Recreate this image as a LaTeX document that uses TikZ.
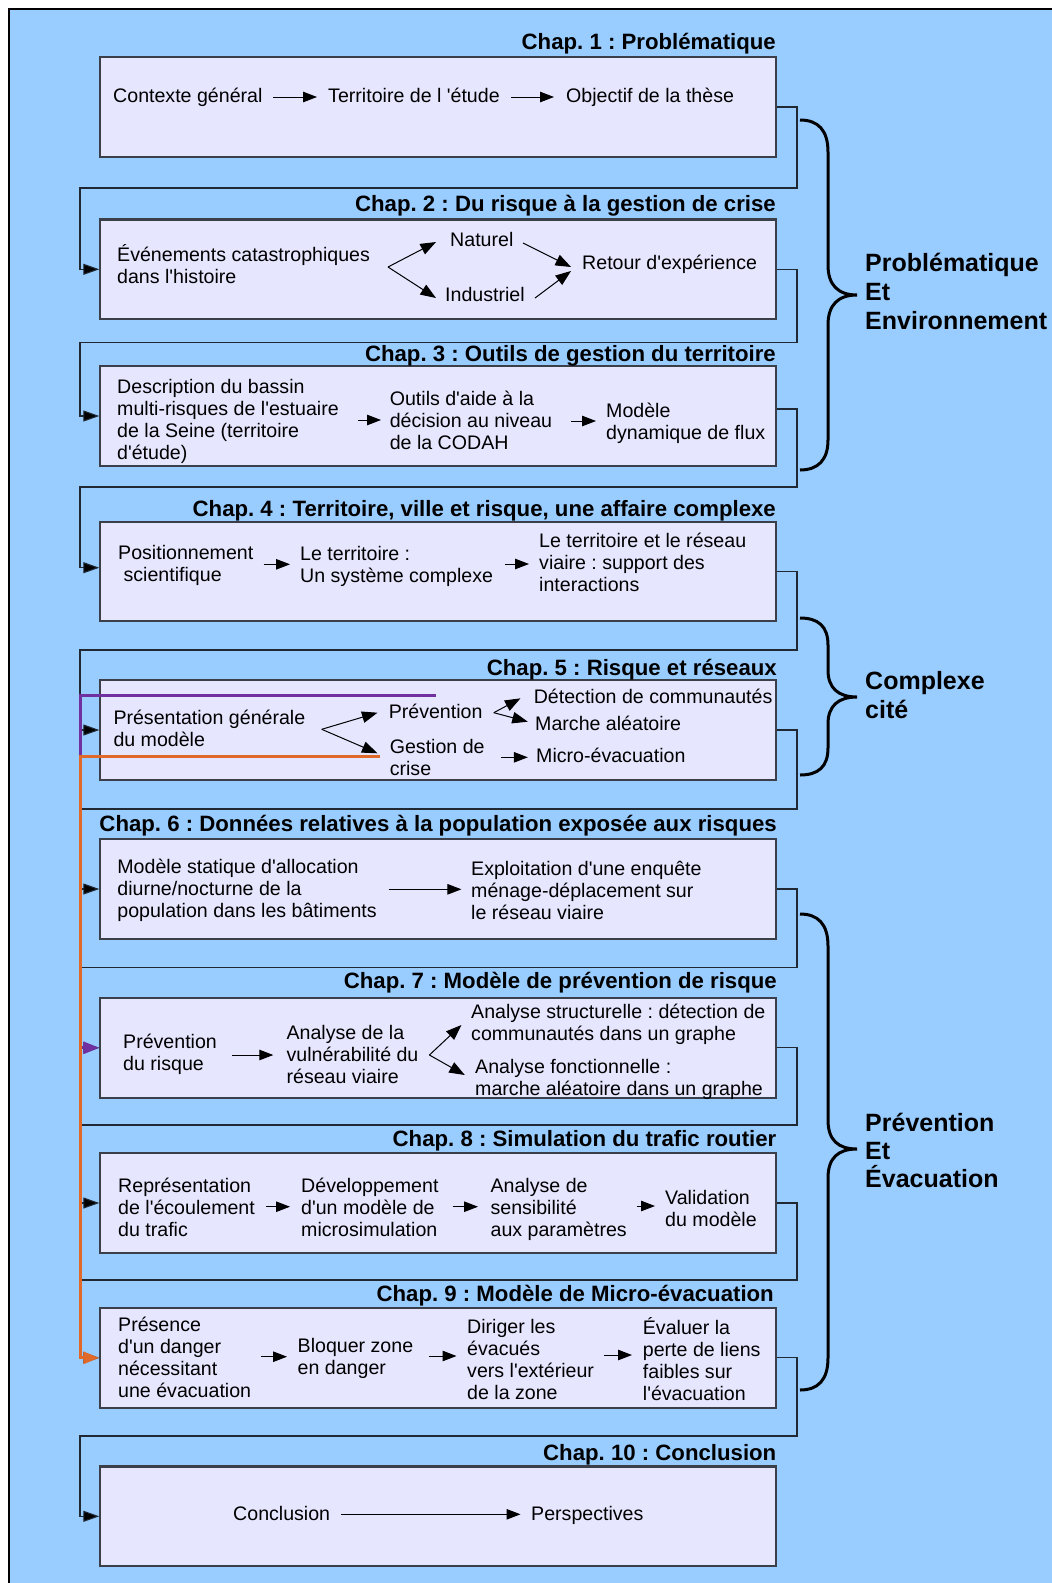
\documentclass[tikz,border=0pt]{standalone}
\usepackage{fontspec}
\setmainfont{Liberation Sans}[Ligatures=TeXOff]
\usetikzlibrary{arrows.meta}
\definecolor{bgblue}{HTML}{99CCFF}
\definecolor{boxfill}{HTML}{E6E6FF}
\definecolor{boxline}{HTML}{3A3F4A}
\definecolor{connline}{HTML}{1F2833}
\definecolor{purp}{HTML}{7030A0}
\definecolor{orng}{HTML}{E0692A}
\newcommand\ml[2][22pt]{\vtop{\baselineskip=#1\lineskiplimit=-100pt\lineskip=0pt\halign{##\hfil\cr#2\crcr}}}
\frenchspacing
\begin{document}
\begin{tikzpicture}[x=1pt,y=-1pt,
 box/.style={draw=boxline,fill=boxfill,line width=1.4pt,minimum width=676pt,minimum height=99pt,inner sep=0pt},
 txt/.style={font=\frenchspacing\fontsize{19.6}{22}\selectfont,inner sep=0pt,anchor=base west},
 ttl/.style={font=\frenchspacing\bfseries\fontsize{22.2}{26}\selectfont,inner sep=0pt,anchor=base east},
 grp/.style={font=\bfseries\fontsize{25}{29}\selectfont,inner sep=0pt,anchor=base west},
 conn/.style={draw=connline,line width=1.1pt,-{Triangle[length=16pt,width=11pt,fill=black]}},
 arr/.style={draw=black,line width=1pt,-{Triangle[length=14pt,width=10.5pt]}},
 darr/.style={draw=black,line width=1pt,-{Triangle[length=15.5pt,width=11.5pt]}},
 brc/.style={draw=black,line width=3pt},
 purpline/.style={draw=purp,line width=3pt,-{Triangle[length=16pt,width=12pt]}},
 orngline/.style={draw=orng,line width=3pt,-{Triangle[length=16pt,width=12pt]}}]
\useasboundingbox (0,0) rectangle (1052,1583);
\fill[white] (0,0) rectangle (1052,1583);
\fill[bgblue] (9,9) rectangle (1052,1583);
\draw[black,line width=1.2pt] (9,1583) -- (9,9) -- (1052,9);

% boxes
\node[box] (b1) at (438,107) {};
\node[box] (b2) at (438,269.3) {};
\node[box] (b3) at (438,416) {};
\node[box] (b4) at (438,571.4) {};
\node[box] (b5) at (438,730) {};
\node[box] (b6) at (438,889) {};
\node[box] (b7) at (438,1047.8) {};
\node[box] (b8) at (438,1203) {};
\node[box] (b9) at (438,1357.8) {};
\node[box] (b10) at (438,1516.3) {};

% connector corners
\coordinate (k1a) at (797,188);    \coordinate (k1b) at (80,188);
\coordinate (k2a) at (797,342.7);  \coordinate (k2b) at (80,342.7);
\coordinate (k3a) at (797,487);    \coordinate (k3b) at (80,487);
\coordinate (k4a) at (797,650);    \coordinate (k4b) at (80,650);
\coordinate (k5a) at (797,809);    \coordinate (k5b) at (80,809);
\coordinate (k6a) at (797,967.3);  \coordinate (k6b) at (80,967.3);
\coordinate (k7a) at (797,1125);   \coordinate (k7b) at (80,1125);
\coordinate (k8a) at (797,1280);   \coordinate (k8b) at (80,1280);
\coordinate (k9a) at (797,1436);   \coordinate (k9b) at (80,1436);

\draw[conn] (b1.east) -| (k1a) -- (k1b) |- (b2.west);
\draw[conn] (b2.east) -| (k2a) -- (k2b) |- (b3.west);
\draw[conn] ([shift={(0,-7)}]b3.east) -| (k3a) -- (k3b) |- ([shift={(0,-3.7)}]b4.west);
\draw[conn] (b4.east) -| (k4a) -- (k4b) |- (b5.west);
\draw[conn] (b5.east) -| (k5a) -- (k5b) |- (b6.west);
\draw[conn] (b6.east) -| (k6a) -- (k6b) |- (b7.west);
\draw[conn] (b7.east) -| (k7a) -- (k7b) |- (b8.west);
\draw[conn] (b8.east) -| (k8a) -- (k8b) |- (b9.west);
\draw[conn] (b9.east) -| (k9a) -- (k9b) |- (b10.west);

% redraw box outlines above the connector ends
\foreach \b in {b1,b2,b3,b4,b5,b6,b7,b8,b9,b10}{
  \draw[draw=boxline,line width=1.4pt] (\b.north west) rectangle (\b.south east);
}

% titles
\node[ttl] (t1) at (776,49) {Chap. 1 : Problématique};
\node[ttl] (t2) at (776,211.7) {Chap. 2 : Du risque à la gestion de crise};
\node[ttl] (t3) at (776,361.7) {Chap. 3 : Outils de gestion du territoire};
\node[ttl] (t4) at (776,516) {Chap. 4 : Territoire, ville et risque, une affaire complexe};
\node[ttl] (t5) at (777,675) {Chap. 5 : Risque et réseaux};
\node[ttl] (t6) at (777,831.7) {Chap. 6 : Données relatives à la population exposée aux risques};
\node[ttl] (t7) at (777,988.3) {Chap. 7 : Modèle de prévention de risque};
\node[ttl] (t8) at (776.5,1146) {Chap. 8 : Simulation du trafic routier};
\node[ttl] (t9) at (774,1301.7) {Chap. 9 : Modèle de Micro-évacuation};
\node[ttl] (t10) at (776.5,1460) {Chap. 10 : Conclusion};

% chapter 1
\node[txt] (c1a) at (113,102) {Contexte général};
\node[txt] (c1b) at (328,102) {Territoire de l 'étude};
\node[txt] (c1c) at (566,102) {Objectif de la thèse};
\draw[arr] ([shift={(160,-5)}]c1a.base west) -- ([shift={(-11,-5)}]c1b.base west);
\draw[arr] ([shift={(183,-5)}]c1b.base west) -- ([shift={(-12,-5)}]c1c.base west);

% chapter 2
\node[txt] (c2a) at (117,261.5) {\ml{Événements catastrophiques\cr dans l'histoire}};
\node[txt] (c2b) at (450,246) {Naturel};
\node[txt] (c2c) at (445,301) {Industriel};
\node[txt] (c2d) at (582,269.5) {Retour d'expérience};
\draw[darr] ([shift={(271,5.5)}]c2a.base west) -- ([shift={(-14,-4)}]c2b.base west);
\draw[darr] ([shift={(271,5.5)}]c2a.base west) -- ([shift={(-9,-3)}]c2c.base west);
\draw[darr] ([shift={(73,-3)}]c2b.base west) -- ([shift={(-11,-2.5)}]c2d.base west);
\draw[darr] ([shift={(90,-3)}]c2c.base west) -- ([shift={(-11,1.5)}]c2d.base west);

% chapter 3
\node[txt] (c3a) at (117,393.7) {\ml{Description du bassin\cr multi-risques de l'estuaire\cr de la Seine (territoire\cr d'étude)}};
\node[txt] (c3b) at (389.6,405.3) {\ml{Outils d'aide à la\cr décision au niveau\cr de la CODAH}};
\node[txt] (c3c) at (606,417) {\ml{Modèle\cr dynamique de flux}};
\draw[arr] ([shift={(241,26.3)}]c3a.base west) -- ([shift={(-8.6,14.7)}]c3b.base west);
\draw[arr] ([shift={(181.8,15.7)}]c3b.base west) -- ([shift={(-10,4)}]c3c.base west);

% chapter 4
\node[txt] (c4a) at (118,559.7) {\ml{Positionnement\cr \ scientifique}};
\node[txt] (c4b) at (300,560.3) {\ml{Le territoire :\cr Un système complexe}};
\node[txt] (c4c) at (539,547) {\ml{Le territoire et le réseau\cr viaire : support des\cr interactions}};
\draw[arr] ([shift={(145.6,4.6)}]c4a.base west) -- ([shift={(-10,4)}]c4b.base west);
\draw[arr] ([shift={(205,3.7)}]c4b.base west) -- ([shift={(-10,17)}]c4c.base west);

% chapter 5
\node[txt] (c5a) at (113.3,724.3) {\ml{Présentation générale\cr du modèle}};
\node[txt] (c5b) at (388.6,718.7) {Prévention};
\node[txt] (c5c) at (389.6,753) {\ml{Gestion de\cr crise}};
\node[txt] (c5d) at (533.6,703) {Détection de communautés};
\node[txt] (c5e) at (535,730.3) {Marche aléatoire};
\node[txt] (c5f) at (536,762) {Micro-évacuation};
\draw[darr] ([shift={(208.4,5)}]c5a.base west) -- ([shift={(-11.1,-6)}]c5b.base west);
\draw[darr] ([shift={(208.4,5)}]c5a.base west) -- ([shift={(-12.1,0.3)}]c5c.base west);
\draw[darr] ([shift={(105.2,-6)}]c5b.base west) -- ([shift={(-13.1,-4.7)}]c5d.base west);
\draw[darr] ([shift={(105.2,-6)}]c5b.base west) -- ([shift={(-7.2,-8.6)}]c5e.base west);
\draw[arr] ([shift={(111.4,4.3)}]c5c.base west) -- ([shift={(-8.2,-4.7)}]c5f.base west);

% chapter 6
\node[txt] (c6a) at (117.2,873.7) {\ml{Modèle statique d'allocation\cr diurne/nocturne de la\cr population dans les bâtiments}};
\node[txt] (c6b) at (471,875.3) {\ml{Exploitation d'une enquête\cr ménage-déplacement sur\cr le réseau viaire}};
\draw[arr] ([shift={(271.4,15.6)}]c6a.base west) -- ([shift={(-9.6,14)}]c6b.base west);

% chapter 7
\node[txt] (c7a) at (123,1048.7) {\ml{Prévention\cr du risque}};
\node[txt] (c7b) at (286.4,1039.7) {\ml{Analyse de la\cr vulnérabilité du\cr réseau viaire}};
\node[txt] (c7c) at (471,1018.7) {\ml{Analyse structurelle : détection de\cr communautés dans un graphe}};
\node[txt] (c7d) at (475,1073.7) {\ml{Analyse fonctionnelle :\cr marche aléatoire dans un graphe}};
\draw[arr] ([shift={(109,6.3)}]c7a.base west) -- ([shift={(-13.1,15.3)}]c7b.base west);
\draw[darr] ([shift={(143,15.3)}]c7b.base west) -- ([shift={(-9.6,6.3)}]c7c.base west);
\draw[darr] ([shift={(143,15.3)}]c7b.base west) -- ([shift={(-10.2,1.3)}]c7d.base west);

% chapter 8
\node[txt] (c8a) at (118,1192) {\ml{Représentation\cr de l'écoulement\cr du trafic}};
\node[txt] (c8b) at (301,1192) {\ml{Développement\cr d'un modèle de\cr microsimulation}};
\node[txt] (c8c) at (490.4,1192) {\ml{Analyse de\cr sensibilité\cr aux paramètres}};
\node[txt] (c8d) at (665,1204.3) {\ml{Validation\cr du modèle}};
\draw[arr] ([shift={(148,14.7)}]c8a.base west) -- ([shift={(-11,14.7)}]c8b.base west);
\draw[arr] ([shift={(151.6,14.7)}]c8b.base west) -- ([shift={(-12.4,14.7)}]c8c.base west);
\draw[arr] ([shift={(146.4,14)}]c8c.base west) -- ([shift={(-10,1.7)}]c8d.base west);

% chapter 9
\node[txt] (c9a) at (118,1331) {\ml{Présence\cr d'un danger\cr nécessitant\cr une évacuation}};
\node[txt] (c9b) at (297.5,1352) {\ml{Bloquer zone\cr en danger}};
\node[txt] (c9c) at (467,1333.7) {\ml{Diriger les\cr évacués\cr vers l'extérieur\cr de la zone}};
\node[txt] (c9d) at (642.7,1334.7) {\ml{Évaluer la\cr perte de liens\cr faibles sur\cr l'évacuation}};
\draw[arr] ([shift={(143,25.7)}]c9a.base west) -- ([shift={(-10.5,4.7)}]c9b.base west);
\draw[arr] ([shift={(131.9,4)}]c9b.base west) -- ([shift={(-10.5,22.3)}]c9c.base west);
\draw[arr] ([shift={(137,21.3)}]c9c.base west) -- ([shift={(-10.7,20.3)}]c9d.base west);

% chapter 10
\node[txt] (c10a) at (233,1520.3) {Conclusion};
\node[txt] (c10b) at (531,1520.3) {Perspectives};
\draw[arr] ([shift={(108,-6)}]c10a.base west) -- ([shift={(-10.5,-6)}]c10b.base west);

% purple and orange links
\coordinate (pS) at (435.7,695); \coordinate (pC) at (80,695);
\coordinate (oS) at (380,756);   \coordinate (oC) at (80,756);
\draw[purpline] (pS) -- (pC) |- (b7.west);
\draw[orngline] (oS) -- (oC) |- (b9.west);

% braces
\draw[brc] (800,120) .. controls (818,120) and (828,130) .. (828,152) -- (828,265)
  .. controls (828,285) and (838,295) .. (857,295)
  .. controls (838,295) and (828,305) .. (828,325) -- (828,440)
  .. controls (828,460) and (818,470) .. (800,470);
\draw[brc] (800,618) .. controls (818,618) and (828,626) .. (828,645) -- (828,670)
  .. controls (828,688) and (838,697) .. (857,697)
  .. controls (838,697) and (828,706) .. (828,724) -- (828,748)
  .. controls (828,767) and (818,775) .. (800,775);
\draw[brc] (800,914) .. controls (818,914) and (828,924) .. (828,946) -- (828,1120)
  .. controls (828,1140) and (838,1149) .. (857,1149)
  .. controls (838,1149) and (828,1158) .. (828,1178) -- (828,1358)
  .. controls (828,1380) and (818,1390) .. (800,1390);

% group labels
\node[grp] (g1) at (865,271.5) {\ml[29pt]{Problématique\cr Et\cr Environnement}};
\node[grp] (g2) at (865,689) {\ml[29pt]{Complexe\cr cité}};
\node[grp] (g3) at (865,1131) {\ml[28pt]{Prévention\cr Et\cr Évacuation}};
\end{tikzpicture}
\end{document}
